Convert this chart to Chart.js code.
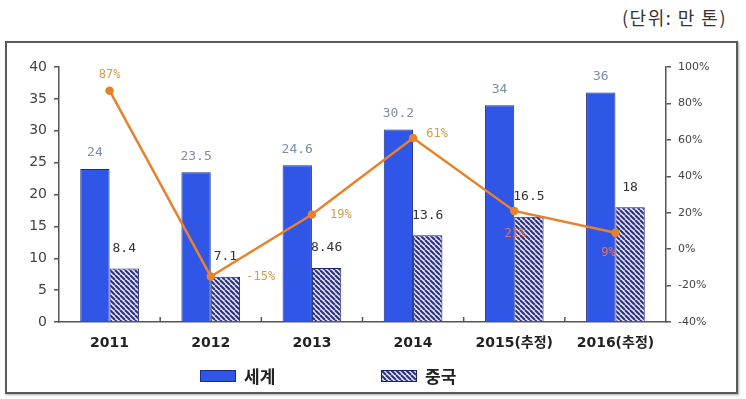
<!DOCTYPE html>
<html>
<head>
<meta charset="utf-8">
<script src="https://cdn.jsdelivr.net/npm/chart.js@4.4.1/dist/chart.umd.min.js"></script>
<style>
  body { margin: 0; background: #fff; width: 746px; height: 399px; position: relative; overflow: hidden; font-family: "Noto Sans CJK KR", sans-serif; }
  #unit { position: absolute; left: 622px; top: 4px; font-size: 18px; letter-spacing: 1.5px; color: #333; }
  #frame { position: absolute; left: 5px; top: 41px; width: 729px; height: 349px; border: 2px solid #5a5a5a; box-shadow: 1px 1px 2px #aaa; }
  #wrap { position: absolute; left: 0; top: 0; width: 746px; height: 399px; }
  .leg { position: absolute; top: 363px; display: flex; align-items: center; font-size: 17px; font-weight: bold; color: #222; }
  .leg canvas { margin-right: 8px; }
</style>
</head>
<body>
<div id="unit">(단위: 만 톤)</div>
<div id="frame"></div>
<div id="wrap"><canvas id="chart" width="746" height="399"></canvas></div>
<div id="legend"></div>
<script>
// 데이터
const years = ['2011', '2012', '2013', '2014', '2015(추정)', '2016(추정)'];
const world = [24, 23.5, 24.6, 30.2, 34, 36];
const china = [8.4, 7.1, 8.46, 13.6, 16.5, 18];
const growth = [87, -15, 19, 61, 21, 9];

const BLUE = '#2f56e6';
const ORANGE = '#e8812c';

// 빗금 패턴
function makeHatch(c2d) {
    const c = document.createElement('canvas');
    c.width = 5; c.height = 5;
    const x = c.getContext('2d');
    x.fillStyle = '#e2e4f6';
    x.fillRect(0, 0, 5, 5);
    x.strokeStyle = '#2a2f80';
    x.lineWidth = 2;
    x.beginPath();
    [-5, 0, 5].forEach(k => { x.moveTo(k, 0); x.lineTo(k + 5, 5); });
    x.stroke();
    return c2d.createPattern(c, 'repeat');
}

const ctx = document.getElementById('chart').getContext('2d');
const hatch = makeHatch(ctx);

// 꺾은선 라벨 위치 (점 기준 오프셋) 와 색
const lineLabelPos = [[0, -16], [50, 0], [29, 0], [24, -4], [1, 23], [-7, 20]];
const lineLabelColor = ['#d39a4a', '#d39a4a', '#d39a4a', '#d39a4a', '#e8735a', '#e8735a'];

const valueLabels = {
    id: 'valueLabels',
    afterDatasetsDraw(chart) {
        const c = chart.ctx;
        c.save();
        c.textAlign = 'center';
        c.textBaseline = 'middle';
        chart.data.datasets.forEach((ds, i) => {
            const meta = chart.getDatasetMeta(i);
            meta.data.forEach((el, j) => {
                const v = ds.data[j];
                if (ds.type === 'line') {
                    c.font = '12px "DejaVu Sans Mono"';
                    c.fillStyle = lineLabelColor[j];
                    c.fillText(v + '%', el.x + lineLabelPos[j][0], el.y + lineLabelPos[j][1]);
                } else {
                    c.font = '13px "DejaVu Sans Mono"';
                    c.fillStyle = i === 0 ? '#7d8ca8' : '#333';
                    c.fillText(String(v), el.x, el.y - (i === 0 ? 16 : 20));
                }
            });
        });
        c.restore();
    }
};

// x축 구분 눈금 (위쪽으로)
const catTicks = {
    id: 'catTicks',
    afterDraw(chart) {
        const xs = chart.scales.x, c = chart.ctx;
        const y = chart.chartArea.bottom;
        c.save();
        c.strokeStyle = '#555';
        c.lineWidth = 1.5;
        for (let i = 0; i < years.length - 1; i++) {
            const px = (xs.getPixelForValue(i) + xs.getPixelForValue(i + 1)) / 2;
            c.beginPath(); c.moveTo(px, y); c.lineTo(px, y - 5); c.stroke();
        }
        c.restore();
    }
};

const chart = new Chart(ctx, {
    data: {
        labels: years,
        datasets: [{
            type: 'bar',
            label: '세계',
            data: world,
            backgroundColor: BLUE,
            borderColor: '#1c2c86',
            borderWidth: 1,
            categoryPercentage: 0.58,
            barPercentage: 1,
            yAxisID: 'y',
            order: 1
        }, {
            type: 'bar',
            label: '중국',
            data: china,
            backgroundColor: hatch,
            borderColor: '#1c2170',
            borderWidth: 1,
            categoryPercentage: 0.58,
            barPercentage: 1,
            yAxisID: 'y',
            order: 1
        }, {
            type: 'line',
            label: '증가율',
            data: growth,
            borderColor: ORANGE,
            backgroundColor: ORANGE,
            borderWidth: 2.5,
            pointRadius: 3,
            pointHoverRadius: 3,
            yAxisID: 'y1',
            order: 0
        }]
    },
    options: {
        responsive: false,
        animation: false,
        layout: { padding: { top: 67, left: 0, right: 0, bottom: 47 } },
        plugins: { legend: { display: false }, tooltip: { enabled: false } },
        scales: {
            x: {
                grid: { display: false },
                border: { color: '#555', width: 1.5 },
                ticks: { padding: 5, color: '#222', font: { family: '"DejaVu Sans", "Noto Sans CJK KR"', size: 14, weight: 'bold' } },
                afterFit: s => { s.height = 30; }
            },
            y: {
                position: 'left',
                min: 0, max: 40,
                ticks: { stepSize: 5, padding: 7, color: '#444', font: { family: 'DejaVu Sans', size: 14 } },
                grid: { drawOnChartArea: false, drawTicks: true, tickLength: 5, color: '#555', lineWidth: 1.5 },
                border: { color: '#555', width: 1.5 },
                afterFit: s => { s.width = 59; }
            },
            y1: {
                position: 'right',
                min: -40, max: 100,
                ticks: { stepSize: 20, padding: 7, color: '#444', font: { family: 'DejaVu Sans', size: 11 }, callback: v => v + '%' },
                grid: { drawOnChartArea: false, drawTicks: true, tickLength: 5, color: '#555', lineWidth: 1.5 },
                border: { color: '#555', width: 1.5 },
                afterFit: s => { s.width = 80; }
            }
        }
    },
    plugins: [valueLabels, catTicks]
});

// 범례 (HTML)
const legendPos = [200, 381];
chart.data.datasets.slice(0, 2).forEach((ds, i) => {
    const item = document.createElement('div');
    item.className = 'leg';
    item.style.left = legendPos[i] + 'px';
    const sw = document.createElement('canvas');
    sw.width = 36; sw.height = 12;
    const sc = sw.getContext('2d');
    sc.fillStyle = i === 0 ? ds.backgroundColor : makeHatch(sc);
    sc.fillRect(0, 0, 36, 12);
    sc.strokeStyle = ds.borderColor;
    sc.lineWidth = 1;
    sc.strokeRect(0.5, 0.5, 35, 11);
    item.appendChild(sw);
    const t = document.createElement('span');
    t.textContent = ds.label;
    item.appendChild(t);
    document.getElementById('legend').appendChild(item);
});
</script>
</body>
</html>
